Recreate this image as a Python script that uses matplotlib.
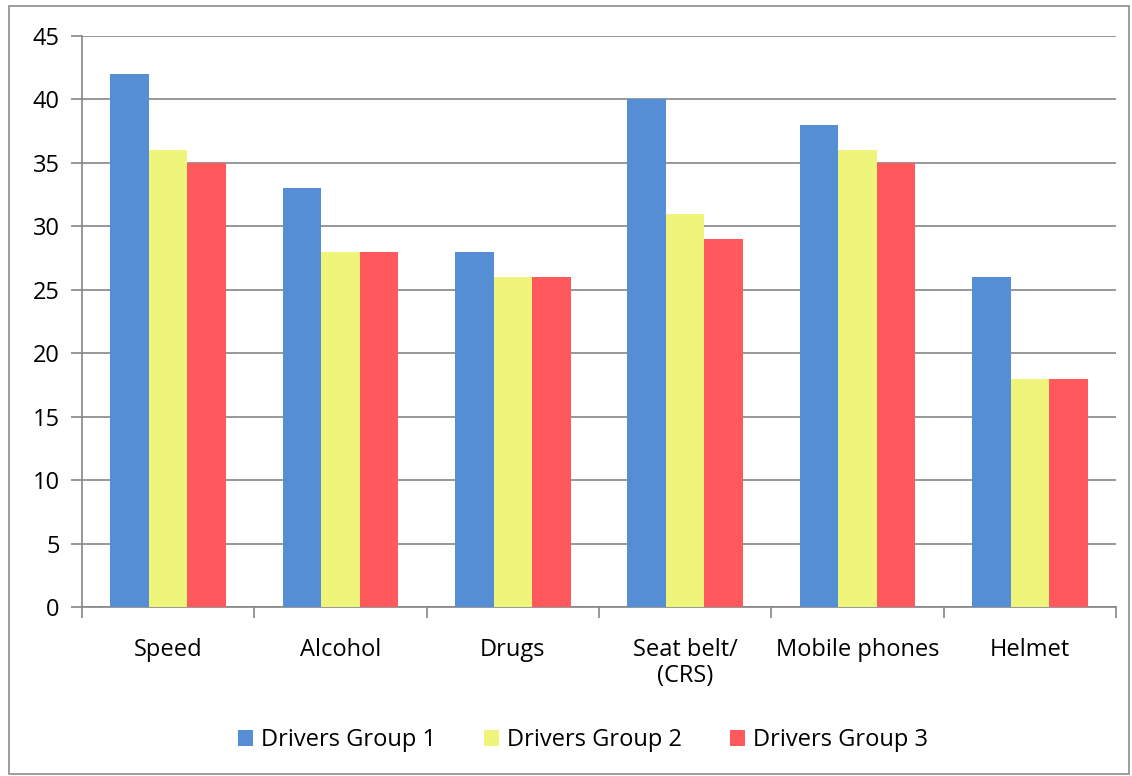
import matplotlib
import numpy as np
from matplotlib import pyplot as plt
from matplotlib.patches import Rectangle

matplotlib.use("Agg")
matplotlib.rcParams["font.family"] = ["Open Sans", "DejaVu Sans"]

categories = ["Speed", "Alcohol", "Drugs", "Seat belt/\n(CRS)", "Mobile phones", "Helmet"]
series_names = ["Drivers Group 1", "Drivers Group 2", "Drivers Group 3"]
group1 = [42, 33, 28, 40, 38, 26]
group2 = [36, 28, 26, 31, 36, 18]
group3 = [35, 28, 26, 29, 35, 18]
colors = ["#558ED5", "#EEF57A", "#FF585D"]

W, H = 1132, 776
fig = plt.figure(figsize=(W / 100, H / 100), dpi=100)
ax = fig.add_axes([82 / W, 1 - 607 / H, (1116 - 82) / W, (607 - 36) / H])

# outer chart border
fig.patches.append(Rectangle((9 / W, 2 / H), (1129 - 9) / W, (770 - 2) / H,
                             transform=fig.transFigure, fill=False,
                             edgecolor="#8c8c8c", linewidth=1.2))

x = np.arange(len(categories))
bw = 0.224
for i, (vals, name, c) in enumerate(zip([group1, group2, group3], series_names, colors)):
    ax.bar(x + (i - 1) * bw, vals, width=bw, color=c, label=name, zorder=3)

ax.set_xlim(-0.5, len(categories) - 0.5)
ax.set_ylim(0, 45)
ax.set_yticks(range(0, 46, 5))
ax.yaxis.grid(True, color="#868686", linewidth=1.2, zorder=0)

for s in ["top", "right"]:
    ax.spines[s].set_visible(False)
for s in ["left", "bottom"]:
    ax.spines[s].set_color("#868686")
    ax.spines[s].set_linewidth(1.2)

# ticks at category boundaries
ax.set_xticks(np.arange(-0.5, len(categories), 1))
ax.set_xticklabels([])
ax.set_xticks(x, minor=True)
ax.set_xticklabels(categories, minor=True, fontsize=17, linespacing=1.15)
ax.tick_params(axis="x", which="major", length=8, color="#868686", width=1.2)
ax.tick_params(axis="x", which="minor", length=0, pad=22)
ax.tick_params(axis="y", length=8, color="#868686", width=1.2, labelsize=17, pad=8)

fig.legend(loc="center", bbox_to_anchor=(583 / W, 1 - 740 / H), ncol=3,
           frameon=False, fontsize=17, handlelength=0.65, handleheight=0.65,
           handletextpad=0.35, columnspacing=2.0)

fig.savefig("out.png", dpi=100)
